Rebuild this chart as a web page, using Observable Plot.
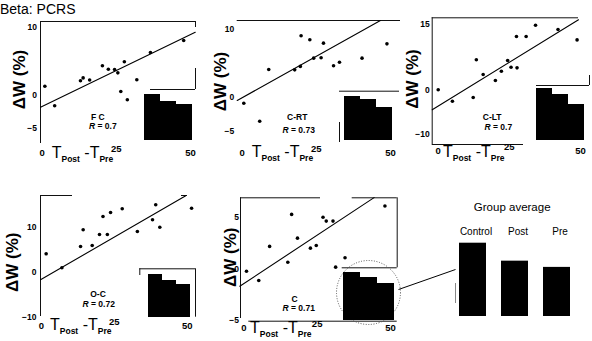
<!DOCTYPE html>
<html><head><meta charset="utf-8">
<script src="https://cdn.jsdelivr.net/npm/d3@7"></script>
<script src="https://cdn.jsdelivr.net/npm/@observablehq/plot@0.6"></script>
<style>
html,body{margin:0;padding:0;background:#fff;}
#fig{position:relative;width:592px;height:341px;overflow:hidden;background:#fff;font-family:"Liberation Sans",Arial,Helvetica,sans-serif;color:#000;}
#fig svg{position:absolute;left:0;top:0;}
.txt{position:absolute;white-space:nowrap;}
.tl{font-size:16px;line-height:16px;}
.tl .s{font-size:8.5px;font-weight:bold;position:relative;top:4px;}
</style></head>
<body><div id="fig"></div>
<script>
// ---------- data ----------
const xTickLabels = [0, 50];
const xMidTick = [25];
const panelNames = ["F C", "C-RT", "C-LT", "O-C", "C"];
const rValues = [0.7, 0.73, 0.7, 0.72, 0.71];

const fcT = [0.9, 4.2, 12.9, 13.8, 16.0, 20.3, 22.3, 24.4, 25.5, 27.7, 26.5, 28.7, 31.9, 36.5, 47.7];
const fcW = [1.27, -1.16, 2.07, 2.5, 2.2, 4.29, 3.79, 3.74, 3.25, 4.88, 0.49, -0.53, 2.22, 6.26, 8.03];
const fcFitT = [-0.57, 51.6];
const fcFitW = [-1.31, 9.26];
const fcTicks = [10, 0, -5];

const crtT = [0.54, 5.9, 8.95, 17.7, 19.6, 19.85, 22.8, 24.1, 26.6, 27.4, 30.8, 32.8, 40.4, 48.8];
const crtW = [-0.75, -3.0, 4.06, 4.0, 4.5, 8.99, 8.4, 5.71, 5.77, 7.9, 4.6, 5.12, 5.71, 7.8];
const crtFitT = [-1.68, 46.6];
const crtFitW = [-0.41, 11.2];
const crtTicks = [10, 0, -5];

const cltT = [0, 5.0, 12.3, 13.4, 15.8, 20.1, 22.2, 24.4, 25.6, 27.7, 27.5, 30.9, 34.2, 42.1, 48.8];
const cltW = [0.16, -2.24, -1.47, 6.98, 3.64, 2.27, 4.39, 6.82, 5.3, 5.15, 12.27, 12.27, 14.84, 13.86, 11.5];
const cltFitT = [-2.1, 49.3];
const cltFitW = [-4.05, 16.07];
const cltTicks = [15, 0, -10];

const ocT = [1.6, 7.0, 13.4, 14.3, 17.4, 19.9, 21.1, 22.6, 23.7, 27.7, 32.9, 38.1, 39.2, 40.6, 51.5];
const ocW = [4.09, 0.98, 5.71, 9.42, 5.93, 8.38, 12.38, 8.38, 13.27, 14.09, 9.04, 11.64, 14.98, 10, 14.2];
const ocFitT = [-0.34, 49.5];
const ocFitW = [-1.8, 17.0];
const ocTicks = [10, 0, -10];

const cT = [0.92, 5.1, 8.8, 15.0, 16.3, 18.3, 22.7, 24.7, 27.0, 28.1, 30.4, 31.3, 34.5, 48.1];
const cW = [-0.26, -1.26, 2.17, 0.64, 5.27, 2.97, 2.0, 2.26, 5.0, 4.62, 4.62, 0.16, 1.07, 6.08];
const cFitT = [-1.37, 44.4];
const cFitW = [-1.87, 6.9];
const cTicks = [5, 0, -5];

const insetGroups = ["Control", "Post", "Pre"];
const fcInset = [0.90, 0.76, 0.71];
const crtInset = [0.89, 0.83, 0.67];
const cltInset = [0.94, 0.83, 0.65];
const ocInset = [0.876, 0.758, 0.669];
const cInset = [0.917, 0.81, 0.708];
const groupAverage = [1.0, 0.755, 0.67];

// ---------- layout (pixels) ----------
const W = 592, H = 341;
const FONT = '"Liberation Sans", Arial, Helvetica, sans-serif';
const layout = [
  {t: fcT, w: fcW, fitT: fcFitT, fitW: fcFitW, ticks: fcTicks, inset: fcInset,
   box: {L: 40, R: 195, T: 21, B: 143}, x0: 41.7, x50: 190, yDom: [-5, 0, 10], yPx: [141.7, 94.3, 26.7],
   yPad: 3.5, xTickC: 152,
   hseg: [[40, 195, 21], [150, 195, 89]], vseg: [[40, 21, 143], [195, 21, 27], [195, 68, 89]],
   insetBox: {x: [143, 192], T: 89, B: 140},
   ylab: [19.5, 79], tlab: [51.7, 158.3], name: [97.3, 116.7], rlab: [88.5, 125.7]},
  {t: crtT, w: crtW, fitT: crtFitT, fitW: crtFitW, ticks: crtTicks, inset: crtInset,
   box: {L: 236.7, R: 400, T: 20, B: 143}, x0: 241.7, x50: 390, yDom: [-5, 0, 10], yPx: [136.7, 96.7, 28.3],
   yPad: 3, xTickC: 151.7,
   hseg: [[236.7, 400, 20], [339, 399, 90.7]], vseg: [[339, 122, 142]],
   insetBox: {x: [343, 393], T: 90.7, B: 140},
   ylab: [220, 81], tlab: [251.7, 157.7], name: [296.7, 116.7], rlab: [282, 130]},
  {t: cltT, w: cltW, fitT: cltFitT, fitW: cltFitW, ticks: cltTicks, inset: cltInset,
   box: {L: 431.7, R: 578, T: 17.3, B: 144}, x0: 437.7, x50: 580, yDom: [-10, 0, 15], yPx: [137.7, 90, 24],
   yPad: 2.5, xTickC: 150,
   hseg: [[431.7, 578, 17.3], [431.7, 523, 144], [536, 589, 85]], vseg: [[431.7, 17.3, 144], [589, 75, 85]],
   insetBox: {x: [536, 584.3], T: 85, B: 140},
   ylab: [411.7, 78.5], tlab: [443, 157.8], name: [491.7, 116.7], rlab: [484, 127]},
  {t: ocT, w: ocW, fitT: ocFitT, fitW: ocFitW, ticks: ocTicks, inset: ocInset,
   box: {L: 40, R: 195, T: 195, B: 316}, x0: 41, x50: 186.7, yDom: [-10, 0, 10], yPx: [314, 271.7, 226.7],
   yPad: 4, xTickC: 325,
   hseg: [[40, 72, 195], [181, 187, 195], [139.3, 195, 268.3]], vseg: [[40, 195, 316], [139.3, 268.3, 275], [195, 268.3, 316.7]],
   insetBox: {x: [146.7, 191], T: 268.3, B: 316.7},
   ylab: [11.7, 261.7], tlab: [50, 330.5], name: [97.5, 293.3], rlab: [82, 304]},
  {t: cT, w: cW, fitT: cFitT, fitW: cFitW, ticks: cTicks, inset: cInset,
   box: {L: 240, R: 396.7, T: 197.3, B: 320.7}, x0: 243.3, x50: 390, yDom: [-5, 0, 5], yPx: [315, 268.3, 216.7],
   yPad: 1.5, xTickC: 326.7,
   hseg: [[240, 320, 197.3], [351.7, 396.7, 197.3], [248.3, 396.7, 320.7], [341.7, 396.7, 267.3]],
   vseg: [[240, 197.3, 318], [396.7, 197.3, 267.3]],
   greySeg: [[455, 283, 303]],
   insetBox: {x: [342.3, 395], T: 267.3, B: 320},
   ylab: [230, 256.7], tlab: [250, 333], name: [294, 298.3], rlab: [282, 307.3],
   circle: [368, 292, 32], link: [398, 289, 455, 269]}
];
const groupLayout = {x: [458.3, 570.5], T: 242.7, B: 316, title: [511.7, 206.7]};

// ---------- drawing ----------
const fig = document.getElementById("fig");
const svgStyle = {background: "transparent", overflow: "visible", fontFamily: FONT, color: "#000"};
const INK = "#111";

function addDiv(html, cls, left, top) {
  const d = document.createElement("div");
  d.className = "txt " + cls;
  d.innerHTML = html;
  d.style.left = left + "px";
  d.style.top = top + "px";
  fig.appendChild(d);
  return d;
}

layout.forEach((p, k) => {
  const {L, R, T, B} = p.box;
  // the printed axes are stretched differently below and above zero:
  // a scale transform expands negative values by factor kNeg
  const sUp = (p.yPx[1] - p.yPx[2]) / p.yDom[2];
  const sDown = (p.yPx[0] - p.yPx[1]) / (-p.yDom[0]);
  const kNeg = sDown / sUp;
  const tf = v => (v < 0 ? v * kNeg : v);
  const xs = d3.scaleLinear([0, 50], [p.x0, p.x50]);
  const ys = d3.scaleLinear(p.yDom, p.yPx); // piecewise, for placing annotations only
  const pts = p.t.map((t, i) => ({t, w: p.w[i]}));
  const fit = p.fitT.map((t, i) => ({t, w: p.fitW[i]}));
  const marks = [
    Plot.ruleY(p.hseg, {y: d => ys.invert(d[2]), x1: d => xs.invert(d[0]), x2: d => xs.invert(d[1]), stroke: INK, strokeWidth: 1}),
    Plot.ruleX(p.vseg, {x: d => xs.invert(d[0]), y1: d => ys.invert(d[1]), y2: d => ys.invert(d[2]), stroke: INK, strokeWidth: 1}),
    Plot.line(fit, {x: "t", y: "w", stroke: "#000", strokeWidth: 1.1}),
    Plot.dot(pts, {x: "t", y: "w", r: 1.8, fill: "#000"}),
    Plot.axisY({ticks: p.ticks, tickSize: 0, tickPadding: p.yPad, label: null, fontSize: 8.5, fontWeight: "bold"}),
    Plot.axisX({ticks: xTickLabels, tickSize: 0, tickPadding: p.xTickC - B - 3.4, label: null, fontSize: 9.5, fontWeight: "bold"}),
    Plot.axisX({ticks: xMidTick, tickSize: 0, tickPadding: p.xTickC - B - 7, label: null, fontSize: 9.5, fontWeight: "bold"}),
    Plot.text(["ΔW (%)"], {x: () => xs.invert(p.ylab[0]), y: () => ys.invert(p.ylab[1]), text: d => d, rotate: -90,
      fontSize: 17, fontWeight: "bold", textAnchor: "middle", lineAnchor: "middle", letterSpacing: 1}),
    Plot.text([panelNames[k]], {x: () => xs.invert(p.name[0]), y: () => ys.invert(p.name[1]), text: d => d,
      fontSize: 8.5, fontWeight: "bold", textAnchor: "middle", lineAnchor: "middle"}),
    Plot.text([rValues[k]], {x: () => xs.invert(p.rlab[0]), y: () => ys.invert(p.rlab[1]), text: () => "R",
      fontSize: 8.5, fontWeight: "bold", fontStyle: "italic", textAnchor: "start", lineAnchor: "middle"}),
    Plot.text([rValues[k]], {x: () => xs.invert(p.rlab[0]), y: () => ys.invert(p.rlab[1]), text: d => "= " + d, dx: 8.5,
      fontSize: 8.5, fontWeight: "bold", textAnchor: "start", lineAnchor: "middle"})
  ];
  if (p.greySeg) {
    marks.push(Plot.ruleX(p.greySeg, {x: d => xs.invert(d[0]), y1: d => ys.invert(d[1]), y2: d => ys.invert(d[2]), stroke: "#888", strokeWidth: 1}));
  }
  if (p.circle) {
    marks.push(Plot.dot([0], {x: () => xs.invert(p.circle[0]), y: () => ys.invert(p.circle[1]), r: p.circle[2],
      fill: "none", stroke: "#555", strokeWidth: 1, strokeDasharray: "1,1.6"}));
    marks.push(Plot.link([0], {x1: () => xs.invert(p.link[0]), y1: () => ys.invert(p.link[1]),
      x2: () => xs.invert(p.link[2]), y2: () => ys.invert(p.link[3]), stroke: "#000", strokeWidth: 1}));
  }
  const svg = Plot.plot({
    width: W, height: H, marginLeft: L, marginRight: W - R, marginTop: T, marginBottom: H - B,
    x: {domain: [0, 50], range: [p.x0, p.x50], axis: null},
    y: {transform: tf, domain: [tf(p.yDom[0]), p.yDom[2]], range: [p.yPx[0], p.yPx[2]], axis: null},
    style: svgStyle, marks
  });
  fig.appendChild(svg);

  // inset bar chart
  const ib = p.insetBox;
  const idata = insetGroups.map((g, i) => ({g, v: p.inset[i]}));
  const isvg = Plot.plot({
    width: W, height: H, marginLeft: ib.x[0], marginRight: W - ib.x[1], marginTop: ib.T, marginBottom: H - ib.B,
    x: {type: "band", domain: insetGroups, range: ib.x, padding: 0, axis: null},
    y: {domain: [0, 1], range: [ib.B, ib.T], axis: null},
    style: svgStyle,
    marks: [Plot.barY(idata, {x: "g", y: "v", fill: "#000", insetLeft: 0, insetRight: 0, shapeRendering: "crispEdges"})]
  });
  fig.appendChild(isvg);

  // x-axis label with subscripts
  addDiv('T<span class="s">Post</span> -T<span class="s">Pre</span>', "tl", p.tlab[0], p.tlab[1] - 13.5);
});

// group average
const gdata = insetGroups.map((g, i) => ({g, v: groupAverage[i]}));
const gsvg = Plot.plot({
  width: W, height: H, marginLeft: groupLayout.x[0], marginRight: W - groupLayout.x[1],
  marginTop: groupLayout.T, marginBottom: H - groupLayout.B,
  x: {type: "band", domain: insetGroups, range: groupLayout.x, paddingInner: 0.35, paddingOuter: 0, axis: null},
  y: {domain: [0, 1], range: [groupLayout.B, groupLayout.T], axis: null},
  style: svgStyle,
  marks: [
    Plot.barY(gdata, {x: "g", y: "v", fill: "#000", insetLeft: 0, insetRight: 0}),
    Plot.axisX({anchor: "top", tickSize: 0, tickPadding: 8, label: null, fontSize: 10, dx: 3}),
    Plot.text(["Group average"], {frameAnchor: "top", text: d => d, dy: -36, dx: groupLayout.title[0] - (groupLayout.x[0] + groupLayout.x[1]) / 2,
      fontSize: 11.5, lineAnchor: "middle", textAnchor: "middle"})
  ]
});
fig.appendChild(gsvg);

// figure title
addDiv("Beta: PCRS", "", 0, 1).style.cssText += "font-size:14px;line-height:16px;";
</script>
</body></html>
